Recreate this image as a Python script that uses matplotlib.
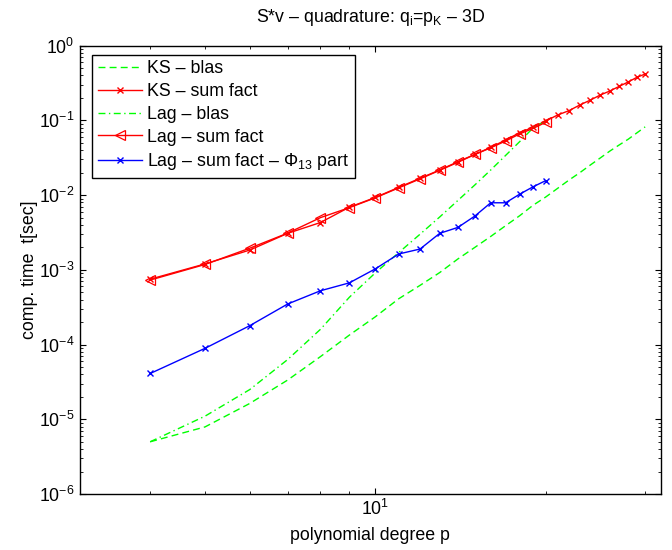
import matplotlib
matplotlib.use("Agg")
import matplotlib.pyplot as plt
from matplotlib.ticker import LogLocator, NullFormatter

plt.rcParams['font.family'] = ['Liberation Sans', 'DejaVu Sans']
plt.rcParams['mathtext.fontset'] = 'custom'
plt.rcParams['mathtext.rm'] = 'Liberation Sans'
plt.rcParams['mathtext.it'] = 'Liberation Sans'
plt.rcParams['mathtext.default'] = 'regular'

# polynomial degrees
p_ks_blas = list(range(4, 31))
p_ks_sf = list(range(4, 31))
p_lag_blas = list(range(4, 21))
p_lag_sf = list(range(4, 21))
p_lag_phi = list(range(4, 21))

# timings in seconds
t_ks_blas = [5.0e-6, 7.9e-6, 1.63e-5, 3.35e-5, 6.9e-5, 1.34e-4, 2.35e-4, 4.1e-4,
             6.2e-4, 9.2e-4, 1.4e-3, 2.0e-3, 2.8e-3, 3.9e-3, 5.3e-3, 7.3e-3,
             9.4e-3, 1.23e-2, 1.59e-2, 2.0e-2, 2.53e-2, 3.15e-2, 3.9e-2,
             4.7e-2, 5.6e-2, 6.8e-2, 8.2e-2]
t_ks_sf = [7.5e-4, 1.2e-3, 1.84e-3, 3.08e-3, 4.3e-3, 6.9e-3, 9.3e-3, 1.27e-2,
           1.68e-2, 2.17e-2, 2.8e-2, 3.51e-2, 4.36e-2, 5.47e-2, 6.85e-2, 8.1e-2,
           9.8e-2, 0.118, 0.135, 0.161, 0.187, 0.219, 0.248, 0.286, 0.327,
           0.377, 0.418]
t_lag_blas = [5.0e-6, 1.1e-5, 2.5e-5, 6.3e-5, 1.6e-4, 4.3e-4, 9.1e-4, 1.7e-3,
              3.0e-3, 5.1e-3, 8.5e-3, 1.37e-2, 2.17e-2, 3.4e-2, 5.2e-2, 7.9e-2,
              9.8e-2]
t_lag_sf = [7.3e-4, 1.18e-3, 1.95e-3, 3.1e-3, 5.0e-3, 6.8e-3, 9.2e-3, 1.25e-2,
            1.65e-2, 2.15e-2, 2.75e-2, 3.5e-2, 4.3e-2, 5.3e-2, 6.6e-2, 7.8e-2,
            9.4e-2]
t_lag_phi = [4.1e-5, 8.9e-5, 1.79e-4, 3.49e-4, 5.25e-4, 6.7e-4, 1.03e-3,
             1.63e-3, 1.9e-3, 3.08e-3, 3.7e-3, 5.25e-3, 7.9e-3, 7.9e-3,
             1.03e-2, 1.29e-2, 1.56e-2]

labels = ['KS – blas', 'KS – sum fact', 'Lag – blas', 'Lag – sum fact',
          'Lag – sum fact – Φ$_{13}$ part']

FS = 12.8

W, H = 672, 550
fig = plt.figure(figsize=(W / 100, H / 100), dpi=100)
left, right, top, bottom = 79.5, 661.0, 45.7, 494.0
ax = fig.add_axes([left / W, (H - bottom) / H, (right - left) / W, (bottom - top) / H])

lw = 1.0
ax.plot(p_ks_blas, t_ks_blas, color='#00ff00', ls=(0, (5, 3)), lw=lw, label=labels[0])
ax.plot(p_ks_sf, t_ks_sf, color='#ff0000', ls='-', lw=lw, marker='x', ms=5,
        mew=1.0, label=labels[1])
ax.plot(p_lag_blas, t_lag_blas, color='#00ff00', ls=(0, (5, 2.5, 1, 2.5)), lw=lw, label=labels[2])
ax.plot(p_lag_sf, t_lag_sf, color='#ff0000', ls='-', lw=lw, marker='<', ms=7,
        mfc='none', mew=0.9, label=labels[3])
ax.plot(p_lag_phi, t_lag_phi, color='#0000ff', ls='-', lw=lw, marker='x', ms=5,
        mew=1.0, label=labels[4])

ax.set_xscale('log')
ax.set_yscale('log')
ax.set_xlim(3, 32)
ax.set_ylim(1e-6, 1)

ax.xaxis.set_major_locator(LogLocator(base=10, numticks=10))
ax.xaxis.set_minor_locator(LogLocator(base=10, subs=range(2, 10), numticks=20))
ax.xaxis.set_minor_formatter(NullFormatter())
ax.yaxis.set_major_locator(LogLocator(base=10, numticks=10))
ax.yaxis.set_minor_locator(LogLocator(base=10, subs=range(2, 10), numticks=20))
ax.yaxis.set_minor_formatter(NullFormatter())

ax.tick_params(which='both', direction='in', top=True, right=True, labelsize=FS)
ax.tick_params(which='major', length=4, width=0.8)
ax.tick_params(which='minor', length=2.5, width=0.6, labelbottom=False, labelleft=False)
for s in ax.spines.values():
    s.set_linewidth(1.0)

ax.set_xlabel('polynomial degree p', fontsize=FS, labelpad=6)
ax.set_ylabel('comp. time  t[sec]', fontsize=FS, labelpad=1)
ax.set_title('S*v – quadrature: q$_i$=p$_K$ – 3D', fontsize=FS, pad=17)

leg = ax.legend(loc='upper left', bbox_to_anchor=(0.022, 0.979), borderaxespad=0,
                fontsize=FS, frameon=True, fancybox=False, edgecolor='black',
                framealpha=1, handlelength=2.5, handletextpad=0.3,
                labelspacing=0.32, borderpad=0.3)
leg.get_frame().set_linewidth(1.0)

fig.savefig('out.png', dpi=100, facecolor='white')
